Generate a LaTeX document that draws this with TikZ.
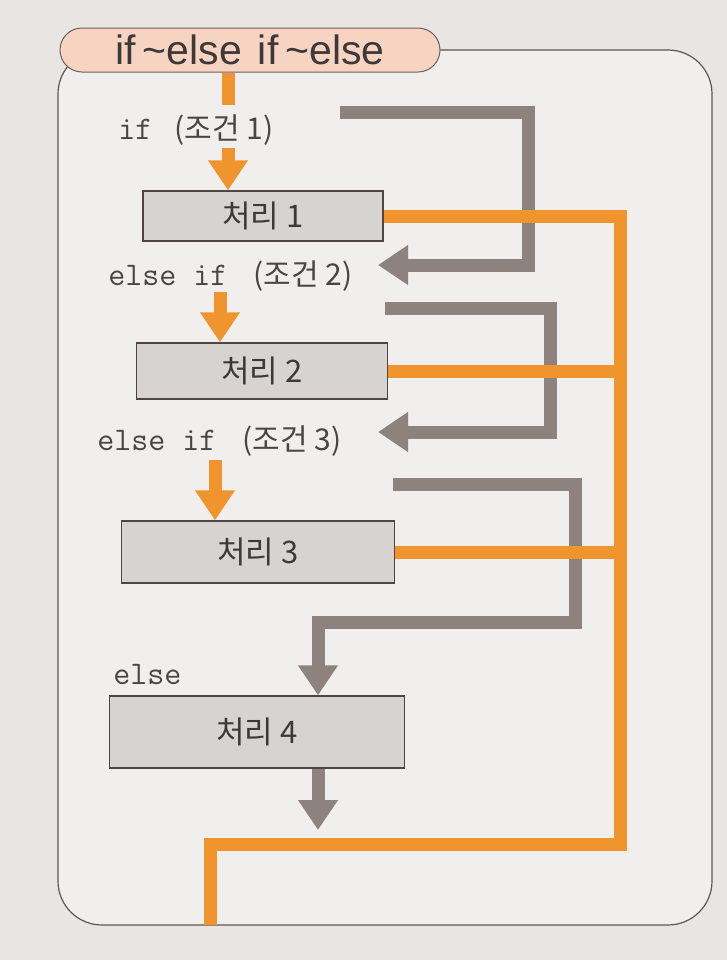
\documentclass[tikz,border=0pt]{standalone}
\usepackage{fontspec}
\setmainfont{Liberation Sans}
\newfontfamily\krfont{Noto Sans CJK KR}
\usetikzlibrary{arrows.meta}
\definecolor{bgpage}{HTML}{E8E5E3}
\definecolor{framefill}{HTML}{F1EFED}
\definecolor{frameline}{HTML}{5C5655}
\definecolor{orng}{HTML}{F0952E}
\definecolor{gline}{HTML}{8D827E}
\definecolor{boxfill}{HTML}{D6D3D2}
\definecolor{boxline}{HTML}{4E4543}
\definecolor{pillfill}{HTML}{F7D4C1}
\definecolor{pillline}{HTML}{6B6060}
\definecolor{txt}{HTML}{3E3838}
\definecolor{codetxt}{HTML}{4A4545}
\begin{document}
\begin{tikzpicture}[x=0.5pt,y=-0.5pt,
  procbox/.style={draw=boxline, line width=0.7pt, fill=boxfill, inner sep=0pt, text=txt, font=\krfont\fontsize{15.5}{18}\selectfont},
  lab/.style={inner sep=0pt, anchor=west, text=codetxt},
  pill/.style={draw=pillline, line width=0.5pt, fill=pillfill, rounded corners=11pt, minimum width=190pt, minimum height=22pt, inner sep=0pt, text=txt, font=\fontsize{20.5}{24}\selectfont},
  oline/.style={draw=orng, line width=6.5pt, line join=miter},
  gln/.style={draw=gline, line width=6.5pt, line join=miter},
  headtip/.style={-{Triangle[width=19pt,length=15pt]}},
  framebox/.style={draw=frameline, line width=0.6pt, fill=framefill, rounded corners=22pt}
]
\newcommand\codetext[1]{{\ttfamily\fontsize{16.5}{18}\selectfont #1}}
\newcommand\condtext[1]{{\krfont\fontsize{15}{18}\selectfont #1}}
\fill[bgpage] (0,0) rectangle (727,960);
\useasboundingbox (0,0) rectangle (727,960);

% frame
\draw[framebox] (58,50) rectangle (712,925);

% process boxes
\node[procbox, minimum width=120pt, minimum height=25pt] (b1) at (263,216) {처리 1};
\node[procbox, minimum width=125.5pt, minimum height=28pt] (b2) at (262,371) {처리 2};
\node[procbox, minimum width=136.5pt, minimum height=31pt] (b3) at (258,552) {처리 3};
\node[procbox, minimum width=147.5pt, minimum height=36pt] (b4) at (257,732) {처리 4};

% condition labels
\node[lab] (l1) at (118,130) {\codetext{if}\hspace{11pt}\condtext{(조건 1)}};
\node[lab] (l2) at (108,276) {\codetext{else if}\hspace{13pt}\condtext{(조건 2)}};
\node[lab] (l3) at (97,441) {\codetext{else if}\hspace{13pt}\condtext{(조건 3)}};
\node[lab] (l4) at (113,675) {\codetext{else}};

% named points
\coordinate (o0) at (228,105);
\coordinate (a1s) at (228,148);
\coordinate (a2s) at (220,292);
\coordinate (a3s) at (215,460);
\coordinate (g1s) at (340,112);
\coordinate (g1c) at (528,112);
\coordinate (t2) at (378,265);
\coordinate (g2s) at (385,308);
\coordinate (g2c) at (550,308);
\coordinate (t3) at (378,432);
\coordinate (g3s) at (393,484);
\coordinate (g3c) at (575,484);
\coordinate (g3d) at (575,622);
\coordinate (g4x) at (318,622);
\coordinate (t5) at (318,830);
\coordinate (ovb) at (620,844);
\coordinate (oend) at (210,925);

% title pill
\node[pill] (title) at (250,50) {if\,\textasciitilde else\hspace{8pt}if\,\textasciitilde else};

% gray (false) paths
\draw[gln, headtip] (g1s) -- (g1c) |- (t2);
\draw[gln, headtip] (g2s) -- (g2c) |- (t3);
\draw[gln, headtip] (g3s) -- (g3c) -- (g3d) -| (b4.north -| g4x);
\draw[gln, headtip] (b4.south -| g4x) -- (t5);

% orange (true) paths
\draw[oline] (title.south -| o0) -- (o0);
\draw[oline, headtip] (a1s) -- (a1s |- b1.north);
\draw[oline, headtip] (a2s) -- (a2s |- b2.north);
\draw[oline, headtip] (a3s) -- (a3s |- b3.north);
\draw[oline] (b1.east) -| (ovb) -| (oend);
\draw[oline] (b2.east) -- (b2.east -| ovb);
\draw[oline] (b3.east) -- (b3.east -| ovb);
\end{tikzpicture}
\end{document}
